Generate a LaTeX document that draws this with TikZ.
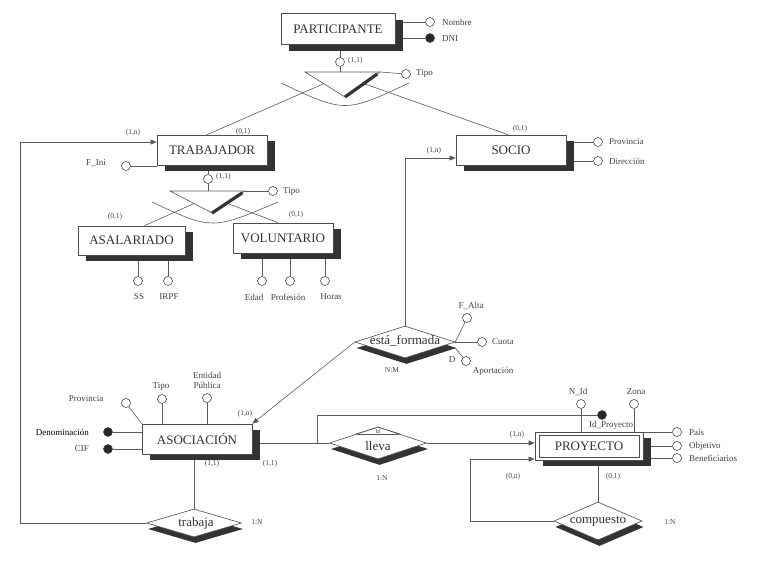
\documentclass[tikz,border=0pt]{standalone}
\usepackage{fontspec}
\setmainfont{Liberation Serif}
\usetikzlibrary{arrows.meta,calc,shapes.geometric,shadows}
\pgfdeclarelayer{background}
\pgfsetlayers{background,main}
\begin{document}
\begin{tikzpicture}[x=1pt,y=-1pt,
  line/.style={draw=black!65,line width=0.6pt},
  arr/.style={line,-{Triangle[length=6pt,width=5pt]}},
  ent/.style={draw=black!70,line width=0.7pt,fill=white,inner sep=0pt,
    font=\fontsize{13}{13}\selectfont,text=black!80,
    drop shadow={shadow xshift=8pt,shadow yshift=-6pt,fill=black!80,opacity=1}},
  rel/.style={diamond,draw=black!70,line width=0.6pt,fill=white,inner sep=0pt,
    drop shadow={shadow xshift=1.5pt,shadow yshift=-6pt,fill=black!80,opacity=1}},
  reltext/.style={font=\fontsize{13}{14}\selectfont,text=black!80,inner sep=0pt},
  att/.style={circle,draw=black!70,line width=0.6pt,fill=white,minimum size=9pt,inner sep=0pt},
  key/.style={att,fill=black!85},
  lbl/.style={font=\fontsize{9}{10}\selectfont,text=black!75,inner sep=1pt},
  card/.style={font=\fontsize{7.5}{8}\selectfont,text=black!75,inner sep=1pt},
  gbar/.style={line width=3.2pt,draw=black!80},
]
\useasboundingbox (0,0) rectangle (768,563);

% ---------- entities ----------
\node[ent,minimum width=114pt,minimum height=31pt] (part) at (338,29) {PARTICIPANTE};
\node[ent,minimum width=110pt,minimum height=30pt] (trab) at (212,150) {TRABAJADOR};
\node[ent,minimum width=107pt,minimum height=29pt] (asal) at (131.5,240.5) {ASALARIADO};
\node[ent,minimum width=100pt,minimum height=30pt] (volu) at (283,238) {VOLUNTARIO};
\node[ent,minimum width=110pt,minimum height=30pt] (socio) at (511,150) {SOCIO};
\node[ent,minimum width=110pt,minimum height=30pt] (asoc) at (197,439) {ASOCIACIÓN};
\node[ent,minimum width=108pt,minimum height=28pt] (proy) at (589,446) {PROYECTO};
% inner frame of the weak entity
\draw[draw=black!70,line width=0.6pt] ($(proy.north west)+(4.5,3.5)$) rectangle ($(proy.south east)+(-4.5,-3.5)$);

% ---------- relationships ----------
\node[rel,minimum width=100pt,minimum height=32pt] (form) at (405,342) {};
\node[reltext] (formt) at (405,341) {está\_formada};
\node[rel,minimum width=95pt,minimum height=28pt] (traba) at (194,523) {};
\node[reltext] (trabat) at (196,523) {trabaja};
\node[rel,minimum width=97pt,minimum height=32pt] (lleva) at (378,443) {};
\node[reltext] (llevat) at (378,446) {lleva};
\node[rel,minimum width=88pt,minimum height=38pt] (comp) at (598,521) {};
\node[reltext] (compt) at (598,521) {compuesto};

% ---------- generalization of PARTICIPANTE ----------
\node[att] (pc) at (340,62) {};
\node[card,anchor=west] (pcc) at (347,61) {(1,1)};
\coordinate (g1l) at (305,72);
\coordinate (g1r) at (380,72);
\coordinate (g1b) at (345,97);
\draw[line,fill=white] (g1l) -- (g1r) -- (g1b) -- cycle;
\draw[gbar] (g1b) -- ($(g1b)!0.92!(g1r)$);
\draw[line] (281,83) .. controls (345,113) .. (409,83);
\node[att] (pt) at (406,74) {};
\node[lbl,anchor=west] (ptl) at (415,73) {Tipo};
\coordinate (g1o1) at (323,84);
\coordinate (g1o2) at (365,84);

% ---------- generalization of TRABAJADOR ----------
\node[att] (tc) at (208,179) {};
\node[card,anchor=west] (tcc) at (215,177) {(1,1)};
\coordinate (g2l) at (170,191);
\coordinate (g2r) at (245,191);
\coordinate (g2b) at (212,213);
\draw[line,fill=white] (g2l) -- (g2r) -- (g2b) -- cycle;
\draw[gbar] (g2b) -- ($(g2b)!0.92!(g2r)$);
\draw[line] (152,202) .. controls (212,230) .. (278,202);
\node[att] (tt) at (273,191) {};
\node[lbl,anchor=west] (ttl) at (282,191) {Tipo};
\coordinate (g2o1) at (193,204);
\coordinate (g2o2) at (229,204);

% ---------- attributes ----------
\node[att] (pnom) at (430,22) {};
\node[lbl,anchor=west] (pnoml) at (441,22) {Nombre};
\node[key] (pdni) at (430,38) {};
\node[lbl,anchor=west] (pdnil) at (441,39) {DNI};

\node[att] (tfi) at (126,166) {};
\node[lbl] (tfil) at (96,163) {F\_Ini};

\node[att] (ss) at (138,281) {};
\node[lbl] (ssl) at (139,297) {SS};
\node[att] (irpf) at (168,281) {};
\node[lbl] (irpfl) at (169,297) {IRPF};

\node[att] (edad) at (262,281) {};
\node[lbl] (edadl) at (254,297) {Edad};
\node[att] (prof) at (290,281) {};
\node[lbl] (profl) at (288,297) {Profesión};
\node[att] (horas) at (325,281) {};
\node[lbl] (horasl) at (331,297) {Horas};

\node[att] (sprov) at (598,142) {};
\node[lbl,anchor=west] (sprovl) at (608,142) {Provincia};
\node[att] (sdir) at (598,161) {};
\node[lbl,anchor=west] (sdirl) at (608,161) {Dirección};

\node[att] (falta) at (467,318) {};
\node[lbl] (faltal) at (471,306) {F\_Alta};
\node[att] (cuota) at (482,342) {};
\node[lbl,anchor=west] (cuotal) at (491,342) {Cuota};
\node[att] (apor) at (466,361) {};
\node[lbl] (aporD) at (452,360) {D};
\node[lbl] (aporl) at (493,371) {Aportación};

\node[att] (aprov) at (126,403) {};
\node[lbl] (aprovl) at (86,399) {Provincia};
\node[att] (atipo) at (162,399) {};
\node[lbl] (atipol) at (161,386) {Tipo};
\node[att] (aent) at (207,398) {};
\node[lbl,align=center] (aentl) at (207,380) {Entidad\\Pública};
\node[key] (aden) at (108,432) {};
\node[lbl,anchor=east,text=black] (adenl) at (90,432) {Denominación};
\node[key] (acif) at (108,449) {};
\node[lbl,anchor=east] (acifl) at (90,449) {CIF};

\node[att] (pnid) at (581,404) {};
\node[lbl] (pnidl) at (578,392) {N\_Id};
\node[att] (pzona) at (634,404) {};
\node[lbl] (pzonal) at (636,392) {Zona};
\node[key] (pid) at (602,415) {};
\node[lbl] (pidl) at (611,425) {Id\_Proyecto};
\node[att] (ppais) at (677,432) {};
\node[lbl,anchor=west] (ppaisl) at (688,432) {País};
\node[att] (pobj) at (677,446) {};
\node[lbl,anchor=west] (pobjl) at (688,446) {Objetivo};
\node[att] (pben) at (677,458) {};
\node[lbl,anchor=west] (pbenl) at (688,458) {Beneficiarios};

% ---------- Id marker inside lleva ----------
\coordinate (idl) at (356,434);
\coordinate (idr) at (400,434);
\coordinate (idt) at (378,427);
\draw[line,line width=0.5pt] (idl) -- (idt) -- (idr);
\draw[line,line width=0.5pt,{Stealth[length=3pt]}-{Stealth[length=3pt]}] (idl) -- (idr);
\node[card,font=\fontsize{6}{6}\selectfont] (idtx) at (378,431) {Id};

% ---------- cardinalities ----------
\node[card] (c1) at (133,133) {(1,n)};
\node[card] (c2) at (243,132) {(0,1)};
\node[card] (c3) at (115,217) {(0,1)};
\node[card] (c4) at (296,215) {(0,1)};
\node[card] (c5) at (520,129) {(0,1)};
\node[card] (c6) at (434,151) {(1,n)};
\node[card] (c7) at (392,370) {N:M};
\node[card] (c8) at (245,414) {(1,n)};
\node[card] (c9) at (212,464) {(1,1)};
\node[card] (c10) at (270,464) {(1,1)};
\node[card] (c11) at (257,522) {1:N};
\node[card] (c12) at (382,478) {1:N};
\node[card] (c13) at (517,435) {(1,n)};
\node[card] (c14) at (513,477) {(0,n)};
\node[card] (c15) at (613,477) {(0,1)};
\node[card] (c16) at (670,522) {1:N};

% ---------- connectors ----------
\coordinate (tcorner) at (20,142);
\coordinate (scorner) at (403,158);
\coordinate (lj) at (317,443);
\coordinate (ccorner) at (470,459);
\begin{pgfonlayer}{background}
  \draw[line] (pc |- part.south) -- (pc) -- (pc |- g1l);
  \draw[line] (g1r) -- (pt);
  \draw[line] (g1o1) -- ($(trab.north)+(-5,0)$);
  \draw[line] (g1o2) -- ($(socio.north)+(-3,0)$);
  \draw[line] (part.east |- pnom) -- (pnom);
  \draw[line] (part.east |- pdni) -- (pdni);

  \draw[line] (tc |- trab.south) -- (tc) -- (tc |- g2l);
  \draw[line] (g2r) -- (tt);
  \draw[line] (g2o1) -- ($(asal.north)+(13,0)$);
  \draw[line] (g2o2) -- ($(volu.north)+(-5,0)$);
  \draw[line] (tfi) -- (trab.west |- tfi);

  \draw[line] (ss) -- (ss |- asal.south);
  \draw[line] (irpf) -- (irpf |- asal.south);
  \draw[line] (edad) -- (edad |- volu.south);
  \draw[line] (prof) -- (prof |- volu.south);
  \draw[line] (horas) -- (horas |- volu.south);

  \draw[line] (socio.east |- sprov) -- (sprov);
  \draw[line] (socio.east |- sdir) -- (sdir);
  \draw[arr] (form.north) -- (form.north |- scorner) -- (socio.west |- scorner);

  \draw[line] (form.east) -- (falta);
  \draw[line] (form.east) -- (cuota);
  \draw[line] ($(form.east)+(0,6)$) -- (apor);
  \draw[arr] (form.west) -- (asoc.north east);

  \draw[line] (aprov) -- (asoc.north west);
  \draw[line] (atipo) -- (atipo |- asoc.north);
  \draw[line] (aent) -- (aent |- asoc.north);
  \draw[line] (aden) -- (asoc.west |- aden);
  \draw[line] (acif) -- (asoc.west |- acif);

  \draw[line] (traba.north) -- (traba.north |- asoc.south);
  \draw[arr] (traba.west) -| (tcorner) -- (trab.west |- tcorner);

  \draw[line] (asoc.east |- lleva.west) -- (lleva.west);
  \draw[line] (lj) |- (pid);
  \draw[arr] (lleva.east) -- (proy.west |- lleva.east);

  \draw[line] (pnid) -- (pnid |- proy.north);
  \draw[line] (pzona) -- (pzona |- proy.north);
  \draw[line] (proy.east |- ppais) -- (ppais);
  \draw[line] (proy.east |- pobj) -- (pobj);
  \draw[line] (proy.east |- pben) -- (pben);

  \draw[line] (comp.north) -- (comp.north |- proy.south);
  \draw[arr] (comp.west) -| (ccorner) -- (proy.west |- ccorner);
\end{pgfonlayer}
\end{tikzpicture}
\end{document}
